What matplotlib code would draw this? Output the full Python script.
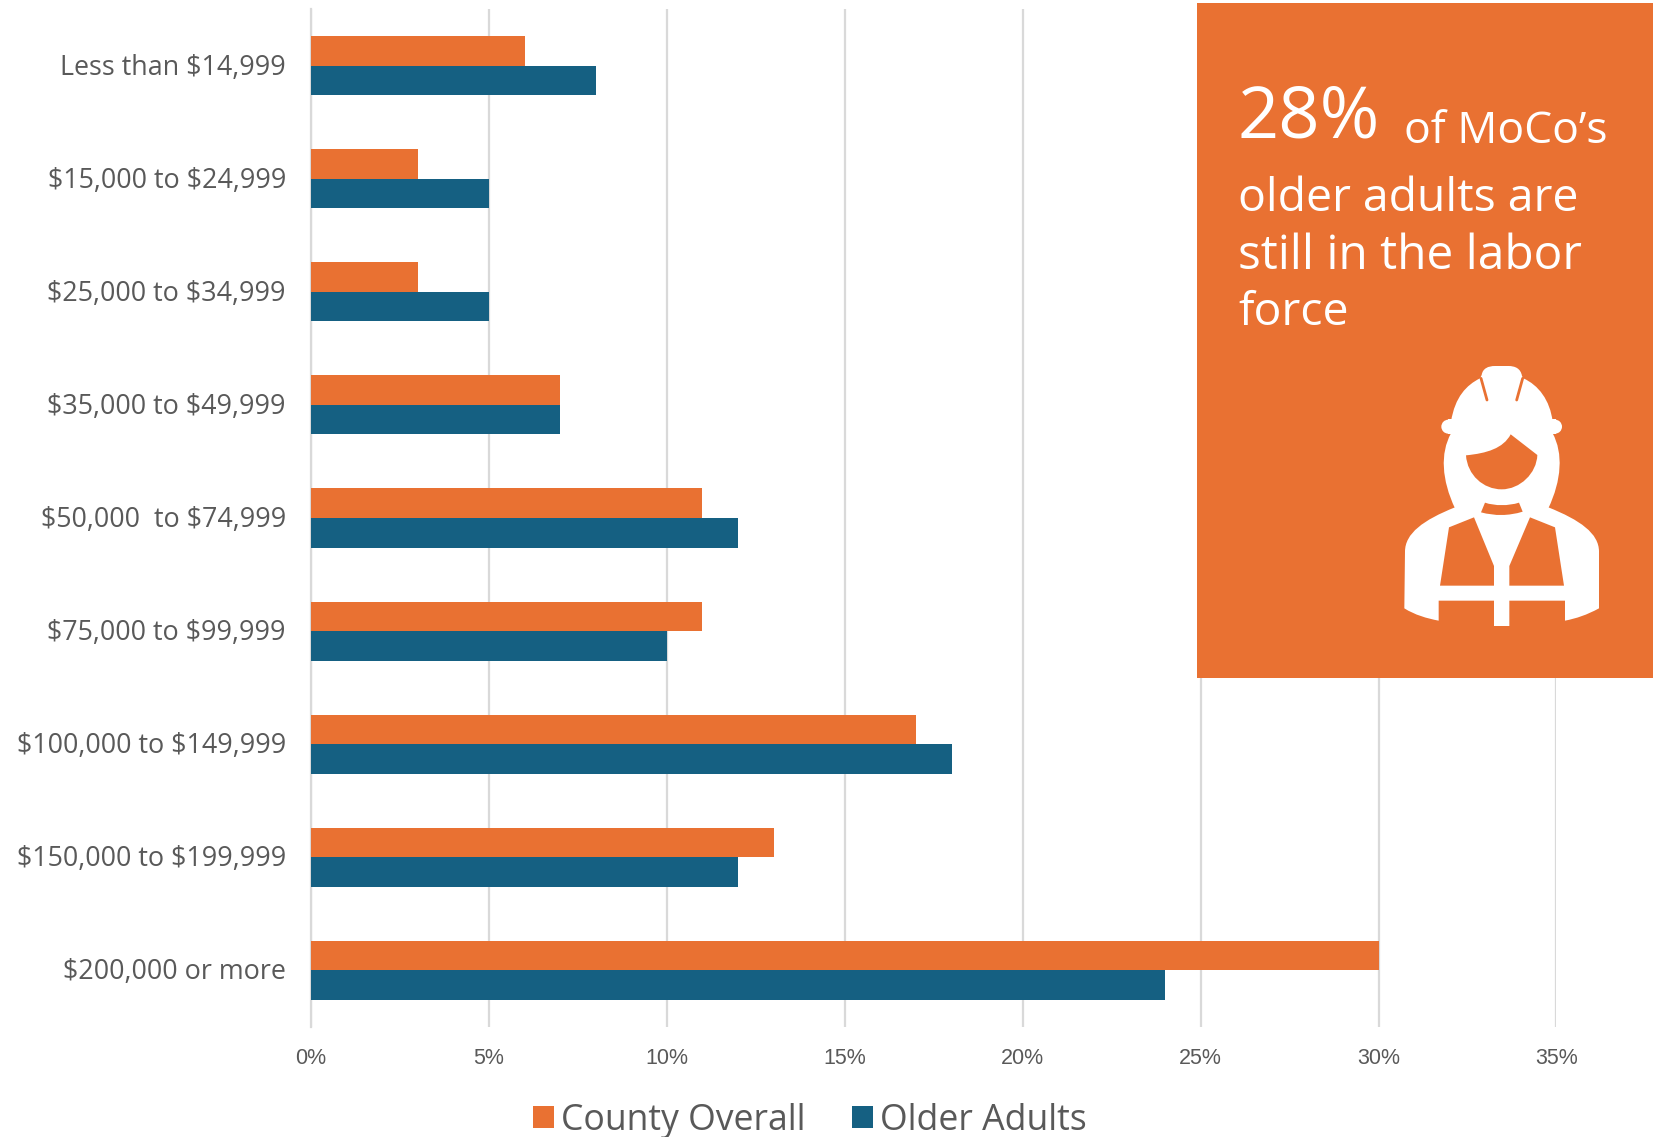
import matplotlib
matplotlib.use("Agg")
import matplotlib.pyplot as plt
from matplotlib.path import Path
from matplotlib.patches import PathPatch, Rectangle, Circle
from matplotlib.transforms import ScaledTranslation
import numpy as np

categories = ["Less than $14,999", "$15,000 to $24,999", "$25,000 to $34,999",
              "$35,000 to $49,999", "$50,000  to $74,999", "$75,000 to $99,999",
              "$100,000 to $149,999", "$150,000 to $199,999", "$200,000 or more"]
county = [6, 3, 3, 7, 11, 11, 17, 13, 30]
older = [8, 5, 5, 7, 12, 10, 18, 12, 24]
xticks = [0, 5, 10, 15, 20, 25, 30, 35]

ORANGE = "#E97132"
BLUE = "#156082"
GREY = "#595959"
GRID = "#D9D9D9"
W, H = 1665, 1137
LABEL_FONT = ["Open Sans", "DejaVu Sans"]

fig = plt.figure(figsize=(W / 100, H / 100), dpi=100, facecolor="white")
ax = fig.add_axes([311 / W, 1 - 1027 / H, (1556.5 - 311) / W, (1027 - 9) / H])
y = np.arange(len(categories))
bh = 0.2615
ax.barh(y - bh / 2, county, bh, color=ORANGE, zorder=3, label="County Overall")
ax.barh(y + bh / 2, older, bh, color=BLUE, zorder=3, label="Older Adults")
ax.set_xlim(0, 35)
ax.set_ylim(len(categories) - 0.5, -0.5)
ax.set_yticks(y, categories, fontsize=19.35, color=GREY, family=LABEL_FONT, parse_math=False)
ax.set_xticks(xticks, [f"{t}%" for t in xticks], fontsize=15.5, color=GREY, family="Liberation Sans")
ax.tick_params(axis="y", length=0, pad=18)
ax.tick_params(axis="x", length=0, pad=15)
ax.grid(axis="x", color=GRID, lw=1.6, zorder=0)
ax.set_axisbelow(True)
for s in ["top", "right", "bottom"]:
    ax.spines[s].set_visible(False)
ax.spines["left"].set_color(GRID)
ax.spines["left"].set_linewidth(1.6)
nudge = ScaledTranslation(0, 1.5 / 100, fig.dpi_scale_trans)
for lbl in ax.get_yticklabels():
    lbl.set_transform(lbl.get_transform() + nudge)

leg = fig.legend(loc="lower center", bbox_to_anchor=(0.4865, -0.030), ncol=2, frameon=False,
                 prop={"family": LABEL_FONT, "size": 25.7}, labelcolor=GREY,
                 handlelength=0.58, handleheight=0.58, handletextpad=0.2, columnspacing=1.3)

# overlay in pixel coordinates for the call-out box and icon
ov = fig.add_axes([0, 0, 1, 1], facecolor="none", zorder=5)
ov.set_xlim(0, W)
ov.set_ylim(H, 0)
ov.axis("off")
ov.add_patch(Rectangle((1197, 3), 456.5, 675, color=ORANGE, lw=0))

ov.text(1238, 119, "28%", color="white", fontsize=52, family=LABEL_FONT, va="center", ha="left")
ov.text(1404, 132, "of MoCo\u2019s", color="white", fontsize=32, family=LABEL_FONT, va="center", ha="left")
for yy, s, fs in [(199, "older adults are", 33.3), (256, "still in the labor", 34.4), (313, "force", 33.3)]:
    ov.text(1238, yy, s, color="white", fontsize=fs, family=LABEL_FONT, va="center", ha="left")

def tx(pts):
    return [(1380 + px / 3, 350 + py / 3) for px, py in pts]

def shape(segments, color):
    verts, codes = [], []
    for i, seg in enumerate(segments):
        pts = tx(seg)
        if i == 0:
            verts += pts; codes += [Path.MOVETO]
        elif len(seg) == 1:
            verts += pts; codes += [Path.LINETO]
        else:
            verts += pts; codes += [Path.CURVE4] * 3
    verts.append(verts[0]); codes.append(Path.CLOSEPOLY)
    ov.add_patch(PathPatch(Path(verts, codes), fc=color, ec="none", lw=0))

W_ = "white"
# helmet dome + cap
shape([[(213, 215)], [(225, 140), (260, 105), (300, 85)], [(305, 75)], [(308, 55), (325, 48), (345, 48)],
       [(385, 48)], [(405, 48), (422, 55), (426, 78)], [(430, 85)], [(475, 105), (510, 150), (518, 215)]], W_)
# brim
ov.add_patch(Rectangle(tx([(203, 208)])[0], 324 / 3, 44 / 3, color=W_, lw=0))
for c in [(205, 230), (525, 230)]:
    ov.add_patch(Circle(tx([c])[0], 21 / 3, color=W_, lw=0))
# helmet slits
for a, b in [((303, 85), (321, 150)), ((428, 85), (410, 150))]:
    p = tx([a, b])
    ov.plot([p[0][0], p[1][0]], [p[0][1], p[1][1]], color=ORANGE, lw=2.0, solid_capstyle="round")
# hair
shape([[(213, 250)], [(180, 310), (185, 390), (225, 475)], [(505, 475)], [(545, 390), (550, 310), (518, 250)]], W_)
# torso
shape([[(75, 605)], [(75, 550), (130, 510), (225, 472)], [(505, 472)], [(600, 510), (657, 550), (657, 605)],
       [(657, 775)], [(620, 795), (590, 805), (555, 812)], [(555, 752)], [(388, 752)], [(388, 828)],
       [(342, 828)], [(342, 752)], [(176, 752)], [(176, 812)], [(140, 805), (105, 795), (73, 775)]], W_)
# face
shape([[(258, 316)], [(320, 310), (370, 295), (392, 253)], [(472, 315)], [(470, 370), (420, 418), (365, 418)],
       [(310, 418), (262, 375), (258, 316)]], ORANGE)
# collar
shape([[(315, 458)], [(345, 468), (385, 468), (417, 458)], [(428, 485)], [(385, 498), (345, 498), (303, 487)]], ORANGE)
# vest
shape([[(207, 532)], [(282, 502)], [(342, 648)], [(342, 707)], [(180, 707)]], ORANGE)
shape([[(450, 502)], [(525, 532)], [(552, 707)], [(388, 707)], [(388, 648)]], ORANGE)

fig.savefig("out.png", dpi=100)
